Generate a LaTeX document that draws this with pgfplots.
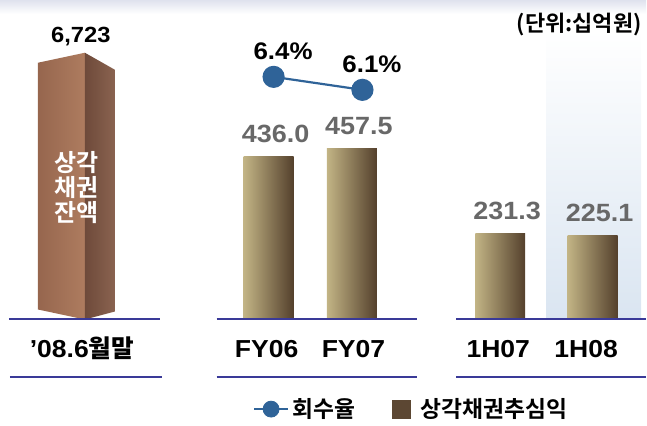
\documentclass[border=0pt]{standalone}
\usepackage{pgfplots}
\pgfplotsset{compat=1.18}
\usepackage{fontspec}
\setmainfont{Liberation Sans}[FakeStretch=1.08]
\newfontfamily\krb{Noto Sans CJK KR Bold}

\definecolor{baseblue}{HTML}{3A3A98}
\definecolor{lineblue}{HTML}{2F6398}
\definecolor{valgray}{HTML}{686868}
\definecolor{barL}{HTML}{C2B485}
\definecolor{barM}{HTML}{6C583E}
\definecolor{barR}{HTML}{54402C}
\definecolor{legsq}{HTML}{5C4733}
\definecolor{frontL}{HTML}{96664E}
\definecolor{frontR}{HTML}{AE7C5F}
\definecolor{sideL}{HTML}{6E4A3A}
\definecolor{sideR}{HTML}{8A6350}
\definecolor{topband}{HTML}{DFE2EE}
\definecolor{panelblue}{HTML}{DAE5F1}

\pgfplotsset{
  /pgf/number format/assume math mode=true,
  cylbar/.style={ybar, bar width=50, bar shift=0pt, draw=none,
    left color=barL, middle color=barM, right color=barR, forget plot,
    nodes near coords={\pgfmathprintnumber[fixed,fixed zerofill,precision=1]{\pgfplotspointmeta}},
    nodes near coords style={font=\bfseries\fontsize{12.5}{14}\selectfont, text=valgray,
      anchor=south, inner sep=0pt, yshift=6.7pt, xshift=3.5pt}},
  catlabels/.style={axis x line*=bottom, axis y line=none,
    x axis line style={draw=none}, major tick length=0pt,
    xticklabel style={anchor=base, inner sep=0pt, yshift=-19.25pt,
      font=\bfseries\fontsize{12.3}{14}\selectfont}},
}

\begin{document}
\begin{tikzpicture}
\path (0pt,0pt) rectangle (323.5pt,213pt);
\shade[top color=topband, bottom color=white] (0pt,213pt) rectangle (323.5pt,206pt);
\shade[top color=white, bottom color=panelblue] (273.5pt,198pt) rectangle (321pt,53pt);

% left panel: balance of written-off loans
\begin{axis}[at={(0pt,53pt)}, anchor=south west, x=0.5pt, y=0.01986pt,
  xmin=0, xmax=647, ymin=0, ymax=7000, enlargelimits=false, clip=false,
  catlabels, xtick={82}, xticklabels={’08.6{\krb 월말}}]
\addplot[draw=none, left color=frontL, right color=frontR, forget plot]
  coordinates {(38,252) (38,6471) (85,6723) (85,0)};
\addplot[draw=none, left color=sideL, right color=sideR, forget plot]
  coordinates {(85,0) (85,6723) (115,6295) (115,201)};
\node[anchor=base, inner sep=0pt, yshift=5pt, font=\bfseries\fontsize{11}{13}\selectfont]
  at (axis cs:81,6723) {6,723};
\node[text=white, align=center, font=\krb\fontsize{12}{12.6}\selectfont]
  at (axis cs:77,3323) {상각\\채권\\잔액};
\end{axis}

% bars: recovery income
\begin{axis}[at={(0pt,53pt)}, anchor=south west, x=0.5pt, y=0.187pt,
  xmin=0, xmax=647, ymin=0, ymax=800, enlargelimits=false, clip=false,
  catlabels, xtick={267,354,499,587}, xticklabels={FY06,FY07,1H07,1H08},
  legend columns=2,
  legend style={draw=none, fill=none, at={(axis cs:253,-240)}, anchor=west,
    inner sep=0pt, font=\krb\fontsize{11.4}{13}\selectfont,
    nodes={inner sep=1.5pt},
    /tikz/every even column/.append style={column sep=17pt}},
  legend cell align=left]
\addlegendimage{legend image code/.code={
  \draw[lineblue, line width=1.1pt] (0pt,0pt) -- (17pt,0pt);
  \fill[lineblue] (8.5pt,0pt) circle (4pt);}}
\addlegendentry{회수율}
\addlegendimage{legend image code/.code={
  \fill[legsq] (0pt,-4.5pt) rectangle (9pt,4.5pt);
  \path (12.5pt,0pt);}}
\addlegendentry{상각채권추심익}
\addplot[cylbar] coordinates {(269,436.0)};
\addplot[cylbar] coordinates {(352.5,457.5)};
\addplot[cylbar] coordinates {(501,231.3)};
\addplot[cylbar] coordinates {(593.5,225.1)};
\end{axis}

% recovery rate
\begin{axis}[at={(0pt,144.17pt)}, anchor=south west, x=0.5pt, y=21.667pt,
  xmin=0, xmax=647, ymin=5, ymax=7, enlargelimits=false, clip=false, hide axis]
\addplot[color=lineblue, line width=1.1pt, mark=*, mark size=5pt,
  nodes near coords={\pgfmathprintnumber[fixed,fixed zerofill,precision=1]{\pgfplotspointmeta}\%},
  nodes near coords style={font=\bfseries\fontsize{12}{14}\selectfont, text=black,
    anchor=south, inner sep=0pt, yshift=8.2pt, xshift=4.75pt}]
  coordinates {(274,6.4) (363,6.1)};
\end{axis}

% base lines
\begin{scope}[baseblue, line width=1pt]
\draw (4.5pt,53pt) -- (80pt,53pt);
\draw (5pt,24pt) -- (81pt,24pt);
\draw (108.5pt,53pt) -- (209pt,53pt);
\draw (108.5pt,24pt) -- (209pt,24pt);
\draw (228.5pt,53pt) -- (323.5pt,53pt);
\draw (228.5pt,24pt) -- (323.5pt,24pt);
\end{scope}

\node[anchor=east, inner sep=0pt, font=\krb\fontsize{11}{13}\selectfont]
  at (321.5pt,200.5pt) {(단위:십억원)};
\end{tikzpicture}
\end{document}
